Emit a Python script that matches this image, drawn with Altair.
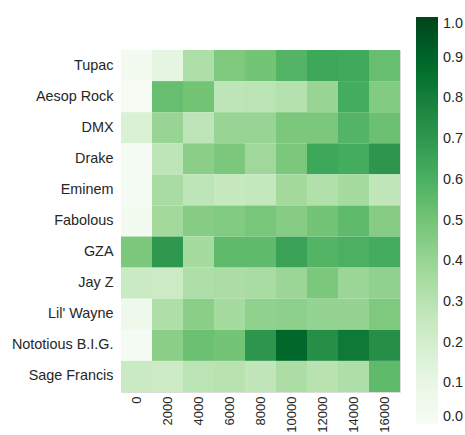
import altair as alt
import pandas as pd

# Rappers (rows) and word-position buckets (columns)
artists = ["Tupac", "Aesop Rock", "DMX", "Drake", "Eminem", "Fabolous", "GZA",
           "Jay Z", "Lil' Wayne", "Nototious B.I.G.", "Sage Francis"]
buckets = ["0", "2000", "4000", "6000", "8000", "10000", "12000", "14000", "16000"]

# Normalised scores, one list per rapper, ordered like `buckets`
tupac = [0.03, 0.12, 0.33, 0.47, 0.50, 0.58, 0.64, 0.63, 0.53]
aesop_rock = [0.01, 0.53, 0.50, 0.28, 0.29, 0.31, 0.40, 0.62, 0.46]
dmx = [0.17, 0.40, 0.28, 0.40, 0.40, 0.48, 0.48, 0.58, 0.52]
drake = [0.02, 0.28, 0.44, 0.48, 0.38, 0.48, 0.64, 0.62, 0.71]
eminem = [0.02, 0.35, 0.28, 0.25, 0.26, 0.37, 0.32, 0.36, 0.27]
fabolous = [0.03, 0.37, 0.45, 0.46, 0.49, 0.45, 0.50, 0.55, 0.45]
gza = [0.48, 0.70, 0.36, 0.55, 0.55, 0.66, 0.58, 0.60, 0.62]
jay_z = [0.24, 0.23, 0.33, 0.34, 0.35, 0.39, 0.48, 0.39, 0.42]
lil_wayne = [0.06, 0.33, 0.44, 0.36, 0.42, 0.43, 0.41, 0.41, 0.47]
biggie = [0.02, 0.44, 0.52, 0.50, 0.71, 0.89, 0.74, 0.82, 0.74]
sage_francis = [0.24, 0.23, 0.29, 0.30, 0.27, 0.34, 0.30, 0.33, 0.55]

rows = [tupac, aesop_rock, dmx, drake, eminem, fabolous, gza,
        jay_z, lil_wayne, biggie, sage_francis]

records = []
for name, vals in zip(artists, rows):
    for b, v in zip(buckets, vals):
        records.append({"artist": name, "bucket": b, "value": v})
df = pd.DataFrame(records)

# Full ColorBrewer "Greens" ramp, from near-white to dark green
green_stops = [0.0, 0.125, 0.25, 0.375, 0.5, 0.625, 0.75, 0.875, 1.0]
green_colors = ["#f7fcf5", "#e5f5e0", "#c7e9c0", "#a1d99b", "#74c476",
                "#41ab5d", "#238b45", "#006d2c", "#00441b"]

ticks = [0.0, 0.1, 0.2, 0.3, 0.4, 0.5, 0.6, 0.7, 0.8, 0.9, 1.0]
font = "Liberation Sans"
text_color = "#262626"
fsize = 14.4

chart = alt.Chart(df).mark_rect(strokeWidth=0).encode(
    x=alt.X("bucket:O", sort=buckets, title=None,
            axis=alt.Axis(labelAngle=-90, labelAlign="right", labelBaseline="middle",
                          domain=False, ticks=False, labelPadding=4,
                          labelFontSize=13, labelFont=font, labelColor=text_color)),
    y=alt.Y("artist:O", sort=artists, title=None,
            axis=alt.Axis(domain=False, ticks=False, labelPadding=8,
                          labelFontSize=fsize, labelFont=font, labelColor=text_color)),
    color=alt.Color("value:Q",
                    scale=alt.Scale(domain=green_stops, range=green_colors,
                                    interpolate="rgb"),
                    legend=alt.Legend(title=None, orient="none",
                                      legendX=295, legendY=-33,
                                      direction="vertical",
                                      gradientLength=407, gradientThickness=22,
                                      gradientStrokeWidth=0,
                                      values=ticks, format=".1f",
                                      labelOverlap=False, labelOffset=5,
                                      labelFontSize=fsize, labelFont=font,
                                      labelColor=text_color)),
).properties(
    width=279,
    height=342,
    autosize=alt.AutoSizeParams(type="none"),
    padding={"left": 121, "top": 50, "right": 65, "bottom": 43},
).configure_view(strokeWidth=0).configure(background="white")

chart.save("out.html", embed_options={"renderer": "svg", "actions": False})
